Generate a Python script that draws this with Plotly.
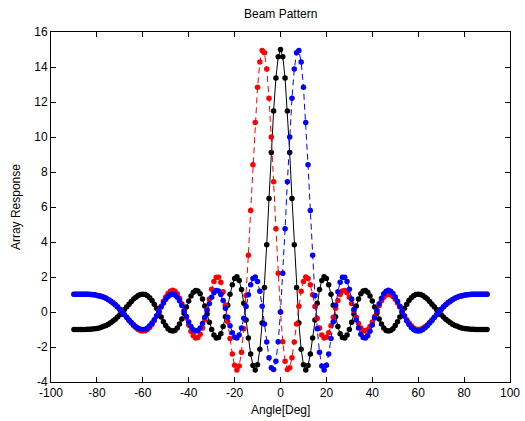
import plotly.graph_objects as go

angles = list(range(-90, 91))

black = [
    -1.00, -1.00, -1.00, -1.00, -1.00, -1.00, -0.99, -0.98, -0.97, -0.96,
    -0.94, -0.91, -0.87, -0.82, -0.77, -0.70, -0.61, -0.52, -0.41, -0.28,
    -0.15, -0.01, 0.15, 0.30, 0.45, 0.60, 0.74, 0.85, 0.94, 1.00,
    1.02, 1.00, 0.93, 0.82, 0.66, 0.45, 0.22, -0.03, -0.29, -0.55,
    -0.77, -0.95, -1.06, -1.09, -1.05, -0.91, -0.69, -0.40, -0.07, 0.29,
    0.63, 0.92, 1.13, 1.23, 1.20, 1.04, 0.74, 0.35, -0.11, -0.58,
    -1.00, -1.32, -1.48, -1.46, -1.24, -0.83, -0.27, 0.38, 1.01, 1.56,
    1.91, 2.01, 1.80, 1.28, 0.50, -0.46, -1.48, -2.40, -3.06, -3.31,
    -3.02, -2.13, -0.63, 1.40, 3.84, 6.49, 9.12, 11.49, 13.37, 14.58,
    15.00,
    14.58, 13.37, 11.49, 9.12, 6.49, 3.84, 1.40, -0.63, -2.13, -3.02,
    -3.31, -3.06, -2.40, -1.48, -0.46, 0.50, 1.28, 1.80, 2.01, 1.91,
    1.56, 1.01, 0.38, -0.27, -0.83, -1.24, -1.46, -1.48, -1.32, -1.00,
    -0.58, -0.11, 0.35, 0.74, 1.04, 1.20, 1.23, 1.13, 0.92, 0.63,
    0.29, -0.07, -0.40, -0.69, -0.91, -1.05, -1.09, -1.06, -0.95, -0.77,
    -0.55, -0.29, -0.03, 0.22, 0.45, 0.66, 0.82, 0.93, 1.00, 1.02,
    1.00, 0.94, 0.85, 0.74, 0.60, 0.45, 0.30, 0.15, -0.01, -0.15,
    -0.28, -0.41, -0.52, -0.61, -0.70, -0.77, -0.82, -0.87, -0.91, -0.94,
    -0.96, -0.97, -0.98, -0.99, -1.00, -1.00, -1.00, -1.00, -1.00, -1.00,
]

red = [
    1.02, 1.02, 1.02, 1.02, 1.02, 1.02, 1.02, 1.01, 1.00, 0.98,
    0.96, 0.93, 0.90, 0.85, 0.79, 0.72, 0.63, 0.54, 0.42, 0.30,
    0.16, 0.01, -0.15, -0.32, -0.48, -0.63, -0.78, -0.90, -1.00, -1.07,
    -1.09, -1.07, -1.00, -0.88, -0.71, -0.50, -0.24, 0.04, 0.33, 0.61,
    0.86, 1.06, 1.19, 1.24, 1.19, 1.04, 0.79, 0.47, 0.08, -0.34,
    -0.74, -1.10, -1.36, -1.49, -1.46, -1.27, -0.92, -0.44, 0.14, 0.74,
    1.30, 1.74, 1.98, 1.98, 1.70, 1.16, 0.38, -0.55, -1.52, -2.40,
    -3.04, -3.31, -3.08, -2.30, -0.95, 0.94, 3.24, 5.80, 8.41, 10.83,
    12.85, 14.28, 14.95, 14.82, 13.88, 12.22, 10.00, 7.44, 4.76, 2.21,
    0.00,
    -1.70, -2.81, -3.28, -3.18, -2.61, -1.72, -0.68, 0.33, 1.18, 1.75,
    2.00, 1.92, 1.56, 0.99, 0.32, -0.35, -0.92, -1.31, -1.49, -1.44,
    -1.19, -0.79, -0.30, 0.21, 0.66, 1.00, 1.20, 1.23, 1.10, 0.84,
    0.49, 0.09, -0.30, -0.65, -0.91, -1.06, -1.09, -1.01, -0.83, -0.57,
    -0.26, 0.06, 0.37, 0.64, 0.84, 0.97, 1.02, 0.99, 0.89, 0.73,
    0.52, 0.28, 0.03, -0.21, -0.44, -0.63, -0.79, -0.91, -0.98, -1.00,
    -0.98, -0.93, -0.84, -0.73, -0.60, -0.45, -0.30, -0.15, 0.01, 0.15,
    0.29, 0.41, 0.52, 0.62, 0.70, 0.78, 0.84, 0.88, 0.92, 0.95,
    0.98, 0.99, 1.00, 1.01, 1.02, 1.02, 1.02, 1.02, 1.02, 1.02,
]

blue = [
    1.02, 1.02, 1.02, 1.02, 1.02, 1.02, 1.01, 1.00, 0.99, 0.98,
    0.95, 0.92, 0.88, 0.84, 0.78, 0.70, 0.62, 0.52, 0.41, 0.29,
    0.15, 0.01, -0.15, -0.30, -0.45, -0.60, -0.73, -0.84, -0.93, -0.98,
    -1.00, -0.98, -0.91, -0.79, -0.63, -0.44, -0.21, 0.03, 0.28, 0.52,
    0.73, 0.89, 0.99, 1.02, 0.97, 0.84, 0.64, 0.37, 0.06, -0.26,
    -0.57, -0.83, -1.01, -1.09, -1.06, -0.91, -0.65, -0.30, 0.09, 0.49,
    0.84, 1.10, 1.23, 1.20, 1.00, 0.66, 0.21, -0.30, -0.79, -1.19,
    -1.44, -1.49, -1.31, -0.92, -0.35, 0.32, 0.99, 1.56, 1.92, 2.00,
    1.75, 1.18, 0.33, -0.68, -1.72, -2.61, -3.18, -3.28, -2.81, -1.70,
    0.00,
    2.21, 4.76, 7.44, 10.00, 12.22, 13.88, 14.82, 14.95, 14.28, 12.85,
    10.83, 8.41, 5.80, 3.24, 0.94, -0.95, -2.30, -3.08, -3.31, -3.04,
    -2.40, -1.52, -0.55, 0.38, 1.16, 1.70, 1.98, 1.98, 1.74, 1.30,
    0.74, 0.14, -0.44, -0.92, -1.27, -1.46, -1.49, -1.36, -1.10, -0.74,
    -0.34, 0.08, 0.47, 0.79, 1.04, 1.19, 1.24, 1.19, 1.06, 0.86,
    0.61, 0.33, 0.04, -0.24, -0.50, -0.71, -0.88, -1.00, -1.07, -1.09,
    -1.07, -1.00, -0.90, -0.78, -0.63, -0.48, -0.32, -0.15, 0.01, 0.16,
    0.30, 0.42, 0.54, 0.63, 0.72, 0.79, 0.85, 0.90, 0.93, 0.96,
    0.98, 1.00, 1.01, 1.02, 1.02, 1.02, 1.02, 1.02, 1.02, 1.02,
]

x_ticks = [-100, -80, -60, -40, -20, 0, 20, 40, 60, 80, 100]
y_ticks = [-4, -2, 0, 2, 4, 6, 8, 10, 12, 14, 16]

FONT = "Liberation Sans, Arial, sans-serif"

fig = go.Figure()
fig.add_trace(go.Scatter(x=angles, y=black, mode="lines+markers",
                         line=dict(color="#000000", width=1),
                         marker=dict(color="#000000", size=5.5)))
fig.add_trace(go.Scatter(x=angles, y=red, mode="lines+markers",
                         line=dict(color="#ff0000", width=1, dash="6px,4px"),
                         marker=dict(color="#ff0000", size=5.5)))
fig.add_trace(go.Scatter(x=angles, y=blue, mode="lines+markers",
                         line=dict(color="#0000ff", width=1, dash="6px,4px"),
                         marker=dict(color="#0000ff", size=5.5)))

axis_common = dict(showline=True, linecolor="#000000", linewidth=1, mirror="ticks",
                   ticks="inside", ticklen=5, tickcolor="#000000", showgrid=False,
                   zeroline=False, automargin=False,
                   tickfont=dict(family=FONT, size=12, color="#000000"))

fig.update_layout(
    width=525, height=421,
    margin=dict(l=51, r=15, t=32, b=39, autoexpand=False),
    paper_bgcolor="#ffffff", plot_bgcolor="#ffffff",
    showlegend=False,
    xaxis=dict(range=[-100, 100], tickvals=x_ticks, ticktext=[str(v) for v in x_ticks],
               **axis_common),
    yaxis=dict(range=[-4, 16], tickvals=y_ticks, ticktext=[str(v) for v in y_ticks],
               **axis_common),
    annotations=[
        dict(text="Beam Pattern", x=0.5, y=1.0, xref="paper", yref="paper",
             xanchor="center", yanchor="bottom", yshift=9, showarrow=False,
             font=dict(family=FONT, size=12, color="#000000")),
        dict(text="Angle[Deg]", x=0.5, y=-0.08, xref="paper", yref="paper",
             xanchor="center", yanchor="middle", showarrow=False,
             font=dict(family=FONT, size=12, color="#000000")),
        dict(text="Array Response", x=-0.076, y=0.5, xref="paper", yref="paper",
             xanchor="center", yanchor="middle", textangle=-90, showarrow=False,
             font=dict(family=FONT, size=12, color="#000000")),
    ],
)

fig.write_html("out.html", config={"displayModeBar": False},
               post_script="document.body.style.margin='0px';document.body.style.overflow='hidden';")
